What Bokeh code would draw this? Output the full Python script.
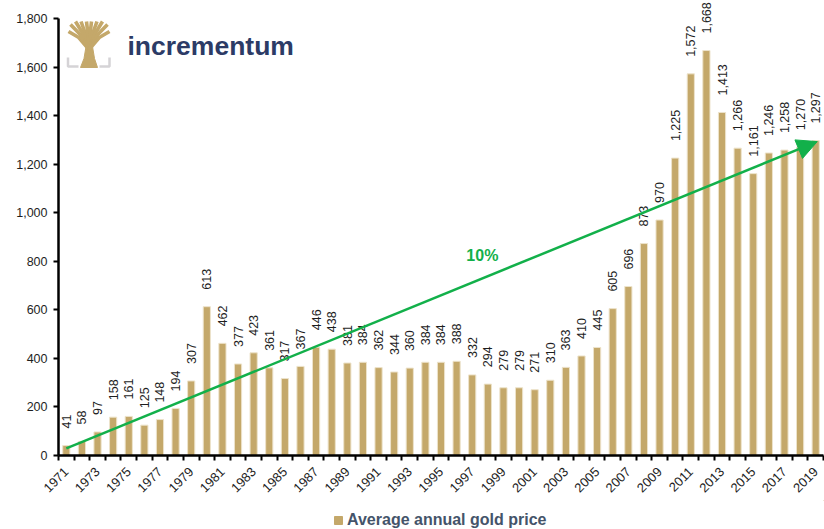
import math
from bokeh.plotting import figure
from bokeh.layouts import column
from bokeh.models import (ColumnDataSource, LabelSet, Label, Arrow, NormalHead,
                          FixedTicker, NumeralTickFormatter, Range1d, Legend, LegendItem)
from bokeh.core.properties import value
from bokeh.embed import file_html
from bokeh.resources import INLINE

years = list(range(1971, 2020))
prices = [41, 58, 97, 158, 161, 125, 148, 194, 307, 613, 462, 377, 423, 361, 317,
          367, 446, 438, 381, 384, 362, 344, 360, 384, 384, 388, 332, 294, 279, 279,
          271, 310, 363, 410, 445, 605, 696, 873, 970, 1225, 1572, 1668, 1413, 1266,
          1161, 1246, 1258, 1270, 1297]
price_labels = [f"{v:,}" for v in prices]
tick_years = [y for y in years if y % 2 == 1]
trend_start = (1971, 29)
trend_end = (2019.1, 1293)
trend_label = "10%"
series_name = "Average annual gold price"

W = 824
H_MAIN, H_LEG = 500, 29
LB, RB, TB, BB = 58, 1, 0, 45
x0, x1 = 1970.5, 2019.5
y0, ymax = 0, 1800
y1 = ymax * (H_MAIN - BB) / (H_MAIN - BB - 18)

FONT = "Liberation Sans"
GOLD = "#C4A86A"
EDGE = "#EDE3CB"
TXT = "#1E1E1E"

p = figure(width=W, height=H_MAIN, output_backend="svg", toolbar_location=None,
           x_range=Range1d(x0, x1), y_range=Range1d(y0, y1),
           min_border_left=LB, min_border_right=RB, min_border_top=TB, min_border_bottom=BB)
p.outline_line_color = None
p.xgrid.grid_line_color = None
p.ygrid.grid_line_color = None

src = ColumnDataSource(dict(x=years, y=prices, lab=price_labels))
bars = p.vbar(x="x", top="y", width=0.46, source=src, fill_color=GOLD,
              line_color=EDGE, line_width=1)

labels = LabelSet(x="x", y="y", text="lab", source=src, angle=math.pi / 2,
                  text_align="left", text_baseline="middle", y_offset=17,
                  text_font=value(FONT), text_font_size="12.5px", text_color=TXT)
p.add_layout(labels)

# axes
xa = p.xaxis[0]
xa.ticker = FixedTicker(ticks=tick_years, minor_ticks=[y + 0.5 for y in range(1970, 2020)])
xa.major_label_overrides = {y: str(y) for y in tick_years}
xa.major_label_orientation = math.pi / 4
xa.major_tick_out = 0
xa.major_tick_in = 0
xa.minor_tick_out = 5
xa.minor_tick_in = 0
xa.minor_tick_line_color = "black"
xa.minor_tick_line_width = 2
xa.axis_line_color = "black"
xa.axis_line_width = 2.5
xa.major_label_text_font = FONT
xa.major_label_text_font_size = "13px"
xa.major_label_text_color = TXT
xa.major_label_standoff = 9

ya = p.yaxis[0]
ya.ticker = FixedTicker(ticks=list(range(0, 1801, 200)))
ya.formatter = NumeralTickFormatter(format="0,0")
ya.bounds = (0, ymax)
ya.major_tick_out = 5
ya.major_tick_in = 0
ya.minor_tick_out = 0
ya.minor_tick_in = 0
ya.major_tick_line_width = 2
ya.axis_line_color = "black"
ya.axis_line_width = 2.5
ya.major_label_text_font = FONT
ya.major_label_text_font_size = "12.5px"
ya.major_label_text_color = TXT
ya.major_label_standoff = 6

# trend arrow
green = "#12B04A"
p.add_layout(Arrow(end=NormalHead(size=20, fill_color=green, line_color=green),
                   x_start=trend_start[0], y_start=trend_start[1],
                   x_end=trend_end[0], y_end=trend_end[1],
                   line_color=green, line_width=2.5))
p.add_layout(Label(x=1997.65, y=822, text=trend_label, text_align="center",
                   text_baseline="middle", text_color=green, text_font=FONT,
                   text_font_style="bold", text_font_size="16px"))

# logo (decoration), positioned via pixel->data helper
fw = W - LB - RB
fh = H_MAIN - TB - BB
def dx(px):
    return x0 + (px - LB) / fw * (x1 - x0)
def dy(py):
    return y1 - (py - TB) / fh * (y1 - y0)

trunk_x = [dx(v) for v in (80, 97, 94, 92, 85.5, 83.5)]
trunk_y = [dy(v) for v in (67, 67, 58, 46, 46, 58)]
p.patch(trunk_x, trunk_y, fill_color=GOLD, line_color=GOLD)
tops = [(68, 31), (70, 24), (75, 21), (80.5, 21), (86, 21), (91, 21), (96.5, 21),
        (102, 21), (107, 24), (109, 31)]
for (tx, ty) in tops:
    p.line([dx(88.5), dx((88.5 + tx) / 2), dx(tx)], [dy(49), dy((49 + ty) / 2 - 3), dy(ty)],
           line_color=GOLD, line_width=3.6)
grey = "#D5D3D6"
p.line([dx(67.5), dx(67.5), dx(78)], [dy(57), dy(66), dy(66)], line_color=grey, line_width=2.5)
p.line([dx(99), dx(109), dx(109)], [dy(66), dy(66), dy(57)], line_color=grey, line_width=2.5)
p.add_layout(Label(x=dx(127), y=dy(45), text="incrementum", text_align="left",
                   text_baseline="middle", text_color="#2C3B66", text_font=FONT,
                   text_font_style="bold", text_font_size="26.5px"))

# legend strip below the chart
lg = figure(width=W, height=H_LEG, output_backend="svg", toolbar_location=None,
            x_range=Range1d(0, 1), y_range=Range1d(0, 1),
            x_axis_location=None, y_axis_location=None,
            min_border_left=0, min_border_right=0, min_border_top=0, min_border_bottom=0)
lg.outline_line_color = None
lg.xgrid.grid_line_color = None
lg.ygrid.grid_line_color = None
swatch = lg.vbar(x=[5], top=[5], bottom=[4], width=0.5, fill_color=GOLD, line_color=GOLD)
legend = Legend(items=[LegendItem(label=series_name, renderers=[swatch])],
                location=(275, 0), orientation="horizontal",
                border_line_color=None, background_fill_alpha=0,
                padding=0, margin=0, spacing=0,
                glyph_width=10, glyph_height=10, label_standoff=4, label_height=14,
                label_text_font=FONT, label_text_font_style="bold",
                label_text_font_size="16px", label_text_color="#44546A")
lg.add_layout(legend)

layout = column(p, lg, spacing=0)
open("out.html", "w").write(file_html(layout, INLINE))
